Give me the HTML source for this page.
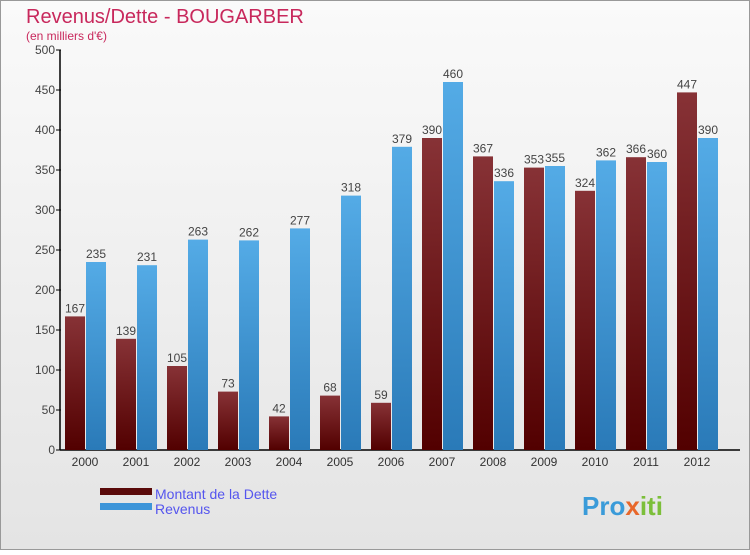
<!DOCTYPE html>
<html><head><meta charset="utf-8"><style>
body{margin:0;background:#fff}
#c{position:relative;width:750px;height:550px;font-family:"Liberation Sans",sans-serif}
</style></head><body>
<div id="c">
<svg id="s" width="750" height="550" xmlns="http://www.w3.org/2000/svg">
<defs>
<linearGradient id="bg" x1="0" y1="0" x2="0" y2="1"><stop offset="0" stop-color="#fafafa"/><stop offset="1" stop-color="#e4e4e4"/></linearGradient>
<linearGradient id="gd" x1="0" y1="0" x2="0" y2="1"><stop offset="0" stop-color="#873236"/><stop offset="1" stop-color="#520000"/></linearGradient>
<linearGradient id="gr" x1="0" y1="0" x2="0" y2="1"><stop offset="0" stop-color="#54abe6"/><stop offset="1" stop-color="#2a7ab8"/></linearGradient>
</defs>
<rect x="0.5" y="0.5" width="749" height="549" fill="url(#bg)" stroke="#999"/>
<text x="26" y="23" font-size="20" fill="#c8285c">Revenus/Dette - BOUGARBER</text>
<text x="26" y="40" font-size="12" fill="#c8285c">(en milliers d'€)</text>
<g id="plot"></g>
<rect x="100" y="488" width="52" height="7" fill="#5a0a0a"/>
<rect x="100" y="503" width="52" height="7" fill="#3d95d9"/>
<text x="155" y="499" font-size="14" fill="#5555ee">Montant de la Dette</text>
<text x="155" y="514" font-size="14" fill="#5555ee">Revenus</text>
<text x="582" y="515" font-size="26" font-weight="bold" fill="#3a9bd9">Pro<tspan fill="#e8672a">x</tspan><tspan fill="#7cbf3a">iti</tspan></text>
</svg>
</div>
<script>
const years=["2000","2001","2002","2003","2004","2005","2006","2007","2008","2009","2010","2011","2012"];
const dette=[167,139,105,73,42,68,59,390,367,353,324,366,447];
const revenus=[235,231,263,262,277,318,379,460,336,355,362,360,390];
const yTicks=[0,50,100,150,200,250,300,350,400,450,500];
const NS="http://www.w3.org/2000/svg";
const g=document.getElementById('plot');
const y=v=>450-v*0.8;
const x=i=>65+i*51;
function mk(t,a){const e=document.createElementNS(NS,t);for(const k in a)e.setAttribute(k,a[k]);g.appendChild(e);return e;}
let ax=mk('line',{x1:60,y1:50,x2:60,y2:450,stroke:'#000','stroke-width':1.5});


let bx=mk('line',{x1:60,y1:450,x2:740,y2:450,stroke:'#000','stroke-width':1.5});


yTicks.forEach(v=>{
 const tk=mk('line',{x1:56,y1:y(v),x2:61,y2:y(v),stroke:'#000'});
 
 
 const t=mk('text',{x:55,y:y(v)+4,'font-size':12,fill:'#444','text-anchor':'end'});
 t.textContent=v;
 
 
});
years.forEach((yr,i)=>{
 const b1=mk('rect',{x:x(i),y:y(dette[i]),width:20,height:dette[i]*0.8,fill:'url(#gd)'});
 
 
 const b2=mk('rect',{x:x(i)+21,y:y(revenus[i]),width:20,height:revenus[i]*0.8,fill:'url(#gr)'});
 
 
 const l1=mk('text',{x:x(i)+10,y:y(dette[i])-4,'font-size':12,fill:'#444','text-anchor':'middle'});
 l1.textContent=dette[i];
 
 
 const l2=mk('text',{x:x(i)+31,y:y(revenus[i])-4,'font-size':12,fill:'#444','text-anchor':'middle'});
 l2.textContent=revenus[i];
 
 
 const xl=mk('text',{x:x(i)+20,y:466,'font-size':12,fill:'#333','text-anchor':'middle'});
 xl.textContent=yr;
 
 
});
</script>
</body></html>
